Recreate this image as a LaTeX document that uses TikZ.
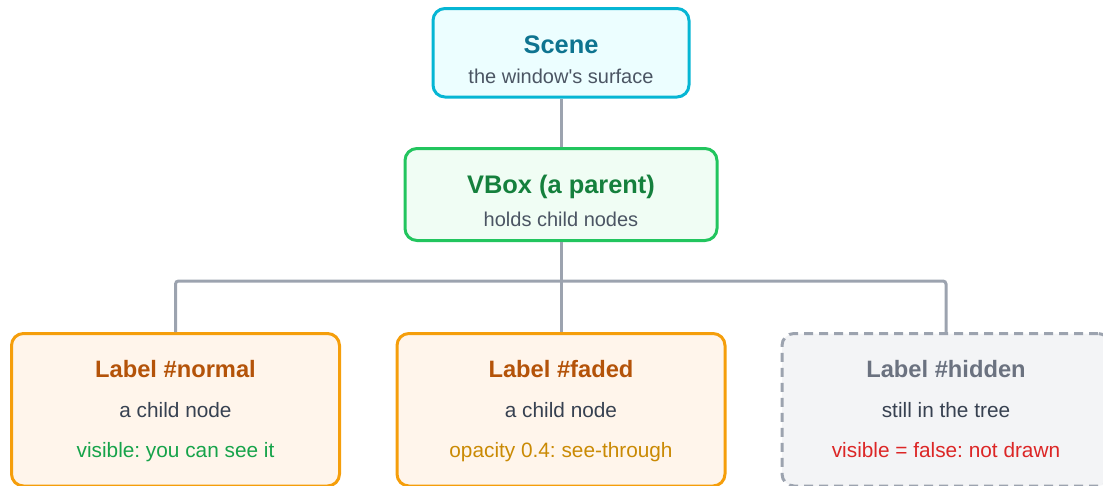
\documentclass[tikz,border=0pt]{standalone}
\usepackage{fontspec}
\setmainfont{Liberation Sans}
\frenchspacing
\definecolor{wire}{HTML}{9CA3AF}
\definecolor{cyanline}{HTML}{06B6D4}
\definecolor{cyanfill}{HTML}{ECFEFF}
\definecolor{cyantext}{HTML}{0E7490}
\definecolor{greenline}{HTML}{22C55E}
\definecolor{greenfill}{HTML}{F0FDF4}
\definecolor{greentext}{HTML}{15803D}
\definecolor{amberline}{HTML}{F59E0B}
\definecolor{amberfill}{HTML}{FFF5EB}
\definecolor{ambertext}{HTML}{B45309}
\definecolor{greyfill}{HTML}{F3F4F6}
\definecolor{greytext}{HTML}{6B7280}
\definecolor{subtext}{HTML}{4B5563}
\definecolor{bodytext}{HTML}{374151}
\definecolor{oktext}{HTML}{16A34A}
\definecolor{fadetext}{HTML}{CA8A04}
\definecolor{offtext}{HTML}{DC2626}
\tikzset{
  box/.style={rectangle, rounded corners=12pt, line width=3pt, inner sep=0pt},
  scenebox/.style={box, draw=cyanline, fill=cyanfill, minimum width=256pt, minimum height=88.5pt},
  parentbox/.style={box, draw=greenline, fill=greenfill, minimum width=312pt, minimum height=92pt},
  childbox/.style={box, draw=amberline, fill=amberfill, minimum width=328pt, minimum height=152.5pt},
  hiddenbox/.style={box, draw=wire, fill=greyfill, dash pattern=on 9pt off 6pt, minimum width=328pt, minimum height=152.5pt},
  conn/.style={draw=wire, line width=3pt},
  txt/.style={anchor=base, inner sep=0pt},
  toptitle/.style={txt, font=\fontsize{25.4}{30}\selectfont\bfseries},
  topsub/.style={txt, font=\fontsize{20}{24}\selectfont, text=subtext},
  kidtitle/.style={txt, font=\fontsize{23.7}{28}\selectfont\bfseries},
  kidline/.style={txt, font=\fontsize{20.8}{25}\selectfont},
}
\begin{document}
\begin{tikzpicture}[x=1pt, y=-1pt]
\useasboundingbox (0,0) rectangle (1103,485);
\clip (0,0) rectangle (1103,485);

% boxes
\node[scenebox] (scene) at (561,52.75) {};
\node[parentbox] (vbox) at (561,194.5) {};
\node[childbox] (normal) at (175.5,409.75) {};
\node[childbox] (faded) at (561,409.75) {};
\node[hiddenbox] (hidden) at (946,409.75) {};

% tree connectors
\coordinate (bus) at (561,281);
\draw[conn] (scene.south) -- (vbox.north);
\draw[conn] (vbox.south) -- (faded.north);
\draw[conn, rounded corners=3pt] (normal.north) -- (normal.north |- bus) -- (hidden.north |- bus) -- (hidden.north);

% texts
\node[toptitle, text=cyantext] (scenet) at (561,53.3) {Scene};
\node[topsub] (scenes) at (561,83.3) {the window\textquotesingle s surface};
\node[toptitle, text=greentext] (vboxt) at (561,193.3) {VBox (a parent)};
\node[topsub] (vboxs) at (561,226) {holds child nodes};

\node[kidtitle, text=ambertext] (normalt) at (175.5,377) {Label \#normal};
\node[kidline, text=bodytext] (normals) at (175.5,417) {a child node};
\node[kidline, text=oktext] (normalv) at (175.5,457) {visible: you can see it};

\node[kidtitle, text=ambertext] (fadedt) at (561,377) {Label \#faded};
\node[kidline, text=bodytext] (fadeds) at (561,417) {a child node};
\node[kidline, text=fadetext] (fadedv) at (561,457) {opacity 0.4: see-through};

\node[kidtitle, text=greytext] (hiddent) at (946,377) {Label \#hidden};
\node[kidline, text=bodytext] (hiddens) at (946,417) {still in the tree};
\node[kidline, text=offtext] (hiddenv) at (946,457) {visible = false: not drawn};
\end{tikzpicture}
\end{document}
